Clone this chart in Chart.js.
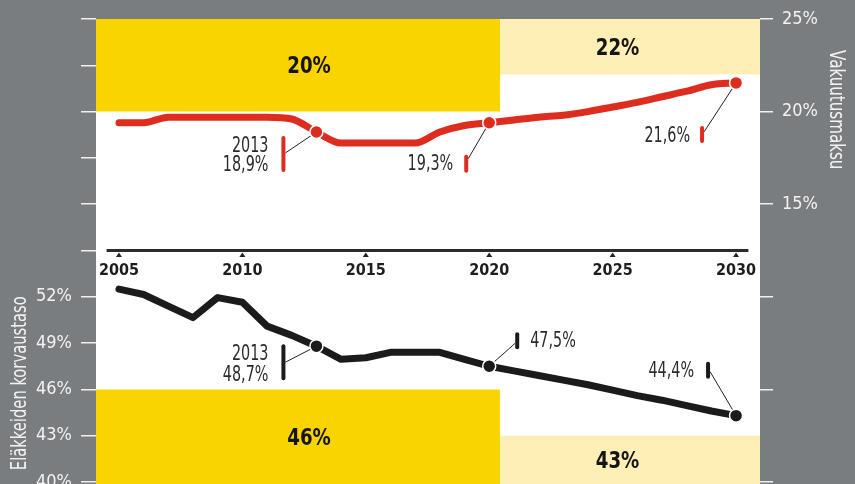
<!DOCTYPE html>
<html>
<head>
<meta charset="utf-8">
<script src="https://cdn.jsdelivr.net/npm/chart.js@4.4.1/dist/chart.umd.min.js"></script>
<style>
  html, body { margin: 0; padding: 0; background: #7a7d80; }
  #wrap { width: 855px; height: 484px; position: relative; }
</style>
</head>
<body>
<div id="wrap"><canvas id="kaavio"></canvas></div>
<script>
var vuodet = [2005, 2006, 2007, 2008, 2009, 2010, 2011, 2012, 2013, 2014, 2015, 2016, 2017,
              2018, 2019, 2020, 2021, 2022, 2023, 2024, 2025, 2026, 2027, 2028, 2029, 2030];
// vakuutusmaksu, % (oikea asteikko)
var maksu = [19.4, 19.4, 19.7, 19.7, 19.7, 19.7, 19.7, 19.6, 18.9, 18.3, 18.3, 18.3, 18.3,
             18.9, 19.25, 19.4, 19.55, 19.7, 19.8, 20.0, 20.25, 20.5, 20.8, 21.1, 21.45, 21.55];
// eläkkeiden korvaustaso, % (vasen asteikko)
var korvaus = [52.5, 52.15, 51.4, 50.65, 51.95, 51.65, 50.1, 49.5, 48.8, 47.95, 48.05, 48.4, 48.4,
               48.4, 47.95, 47.5, 47.2, 46.9, 46.6, 46.3, 45.95, 45.6, 45.3, 44.95, 44.6, 44.3];

var xTicks = [2005, 2010, 2015, 2020, 2025, 2030];
var maksuTicks = [0, 5, 10, 15, 20, 25];
var korvausTicks = [40, 43, 46, 49, 52, 55, 58, 61, 64, 67, 70];

var korostusVuodet = [2013, 2020, 2030];
var maksuTekstit = [['2013', '18,9%'], ['19,3%'], ['21,6%']];
var korvausTekstit = [['2013', '48,7%'], ['47,5%'], ['44,4%']];

// tavoitelaatikot: ennen / jälkeen rajan
var raja = 2020.45;
var maksuTavoite = [20, 22];
var korvausTavoite = [46, 43];
var tavoiteX = [2012.7, 2025.2];

var PUNAINEN = '#dc2d1e', MUSTA = '#1b1b1b';
var KELTA = '#f9d400', VAALEA = '#fdefb5';
var FONTTI = "'DejaVu Sans Condensed', 'DejaVu Sans', sans-serif";

// kuvatekstien paikat suhteessa pisteeseen (px)
var maksuSijainnit = [
  { bx: -33, b0: 4, b1: 40, lx: -31, ly: 21, tx: -48, ty: [15, 34], al: 'right' },
  { bx: -23, b0: 32, b1: 50, lx: -21, ly: 36, tx: -36, ty: [42], al: 'right' },
  { bx: -34, b0: 43, b1: 60, lx: -32, ly: 49, tx: -46, ty: [54], al: 'right' }
];
var korvausSijainnit = [
  { bx: -33, b0: -2, b1: 34, lx: -31, ly: 16, tx: -48, ty: [8, 29], al: 'right' },
  { bx: 28, b0: -34, b1: -17, lx: 26, ly: -23, tx: 41, ty: [-25], al: 'left' },
  { bx: -28, b0: -54, b1: -37, lx: -26, ly: -44, tx: -42, ty: [-44], al: 'right' }
];

function pisteet(arvot) {
  return vuodet.map(function(v, i) { return { x: v, y: arvot[i] }; });
}
function sade(ctx) {
  var p = ctx.raw;
  return p && korostusVuodet.indexOf(p.x) >= 0 ? 6.5 : 0;
}
// kapea teksti: DejaVu Condensed vielä vaakasuunnassa puristettuna
function kapea(ctx, t, x, y, al, sx, kulma) {
  ctx.save();
  ctx.translate(x, y);
  if (kulma) ctx.rotate(kulma);
  ctx.scale(sx, 1);
  ctx.textAlign = al;
  ctx.fillText(t, 0, 0);
  ctx.restore();
}
// y-akselit: kiinteä leveys, ei automaattista reunatilaa
function sovita(leveys) {
  return function(s) {
    s.width = leveys;
    s.paddingTop = 0;
    s.paddingBottom = 0;
  };
}

var koristeet = {
  id: 'koristeet',
  beforeDraw: function(chart) {
    var a = chart.chartArea, ctx = chart.ctx;
    ctx.save();
    ctx.fillStyle = '#fff';
    ctx.fillRect(a.left, a.top, a.right - a.left, a.bottom - a.top);
    ctx.restore();
  },
  beforeDatasetsDraw: function(chart) {
    var ctx = chart.ctx, sx = chart.scales.x;
    ctx.save();
    ctx.strokeStyle = '#222';
    ctx.lineWidth = 1;
    [[chart.scales.yR, maksu, maksuSijainnit], [chart.scales.yL, korvaus, korvausSijainnit]].forEach(function(s) {
      korostusVuodet.forEach(function(v, i) {
        var px = sx.getPixelForValue(v), py = s[0].getPixelForValue(s[1][vuodet.indexOf(v)]);
        var o = s[2][i];
        ctx.beginPath();
        ctx.moveTo(px, py);
        ctx.lineTo(px + o.lx, py + o.ly);
        ctx.stroke();
      });
    });
    ctx.restore();
  },
  afterDatasetsDraw: function(chart) {
    var ctx = chart.ctx, sx = chart.scales.x, yR = chart.scales.yR, yL = chart.scales.yL;
    var a = chart.chartArea;
    ctx.save();

    // aika-akseli keskellä
    var ay = yL.getPixelForValue(55);
    ctx.strokeStyle = '#2b2b2b';
    ctx.lineWidth = 3;
    ctx.beginPath();
    ctx.moveTo(sx.getPixelForValue(2004.5), ay);
    ctx.lineTo(sx.getPixelForValue(2030.5), ay);
    ctx.stroke();
    ctx.fillStyle = '#222';
    xTicks.forEach(function(v) {
      var x = sx.getPixelForValue(v);
      ctx.beginPath();
      ctx.moveTo(x - 3, ay + 6.5);
      ctx.lineTo(x + 3, ay + 6.5);
      ctx.lineTo(x, ay + 2);
      ctx.closePath();
      ctx.fill();
    });

    // tavoiteluvut
    ctx.fillStyle = '#151515';
    ctx.font = 'bold 23px ' + FONTTI;
    ctx.textBaseline = 'middle';
    maksuTavoite.forEach(function(t, i) {
      kapea(ctx, t + '%', sx.getPixelForValue(tavoiteX[i]), yR.getPixelForValue((t + yR.max) / 2) + 2, 'center', 0.88);
    });
    korvausTavoite.forEach(function(t, i) {
      kapea(ctx, t + '%', sx.getPixelForValue(tavoiteX[i]), yL.getPixelForValue((t + yL.min) / 2) + 2, 'center', 0.88);
    });

    // kuvatekstit
    ctx.font = '21px ' + FONTTI;
    [[yR, maksu, maksuSijainnit, maksuTekstit, PUNAINEN], [yL, korvaus, korvausSijainnit, korvausTekstit, MUSTA]].forEach(function(s) {
      korostusVuodet.forEach(function(v, i) {
        var px = sx.getPixelForValue(v), py = s[0].getPixelForValue(s[1][vuodet.indexOf(v)]);
        var o = s[2][i];
        ctx.strokeStyle = s[4];
        ctx.lineWidth = 4;
        ctx.lineCap = 'round';
        ctx.beginPath();
        ctx.moveTo(px + o.bx, py + o.b0 + 2);
        ctx.lineTo(px + o.bx, py + o.b1 - 2);
        ctx.stroke();
        ctx.fillStyle = '#2b2b2b';
        s[3][i].forEach(function(t, j) {
          kapea(ctx, t, px + o.tx, py + o.ty[j], o.al, 0.76);
        });
      });
    });

    // akselien otsikot
    ctx.fillStyle = '#f2f2f2';
    ctx.font = '21px ' + FONTTI;
    kapea(ctx, 'Vakuutusmaksu', a.right + 75, yR.getPixelForValue(20.1), 'center', 0.8, Math.PI / 2);
    kapea(ctx, 'Eläkkeiden korvaustaso', 21, yL.getPixelForValue(46.4), 'center', 0.78, -Math.PI / 2);

    ctx.restore();
  }
};

new Chart(document.getElementById('kaavio'), {
  type: 'line',
  data: {
    datasets: [
      {
        label: 'Vakuutusmaksu', data: pisteet(maksu), yAxisID: 'yR',
        borderColor: PUNAINEN, borderWidth: 7, cubicInterpolationMode: 'monotone',
        borderCapStyle: 'round', borderJoinStyle: 'round',
        pointRadius: sade, pointBackgroundColor: PUNAINEN,
        pointBorderColor: '#fff', pointBorderWidth: 1.5, order: 1
      },
      {
        label: 'Korvaustaso', data: pisteet(korvaus), yAxisID: 'yL',
        borderColor: MUSTA, borderWidth: 7, tension: 0,
        borderCapStyle: 'round', borderJoinStyle: 'round',
        pointRadius: sade, pointBackgroundColor: MUSTA,
        pointBorderColor: '#fff', pointBorderWidth: 1.5, order: 2
      },
      // tavoitelaatikot
      { data: [{ x: 2004, y: maksuTavoite[0] }, { x: raja, y: maksuTavoite[0] }], yAxisID: 'yR',
        fill: 'end', backgroundColor: KELTA, borderWidth: 0, pointRadius: 0, order: 5 },
      { data: [{ x: raja, y: maksuTavoite[1] }, { x: 2031, y: maksuTavoite[1] }], yAxisID: 'yR',
        fill: 'end', backgroundColor: VAALEA, borderWidth: 0, pointRadius: 0, order: 5 },
      { data: [{ x: 2004, y: korvausTavoite[0] }, { x: raja, y: korvausTavoite[0] }], yAxisID: 'yL',
        fill: 'start', backgroundColor: KELTA, borderWidth: 0, pointRadius: 0, order: 5 },
      { data: [{ x: raja, y: korvausTavoite[1] }, { x: 2031, y: korvausTavoite[1] }], yAxisID: 'yL',
        fill: 'start', backgroundColor: VAALEA, borderWidth: 0, pointRadius: 0, order: 5 }
    ]
  },
  options: {
    responsive: true, maintainAspectRatio: false, animation: false,
    layout: { padding: { top: 19, bottom: 0, left: 0, right: 0 }, autoPadding: false },
    plugins: { legend: { display: false }, tooltip: { enabled: false } },
    scales: {
      x: {
        type: 'linear', min: 2004.07, max: 2030.97,
        position: { yL: 55 },
        afterBuildTicks: function(s) { s.ticks = xTicks.map(function(v) { return { value: v }; }); },
        afterFit: function(s) { s.height = 0; s.paddingLeft = 0; s.paddingRight = 0; },
        grid: { display: false, drawTicks: false },
        border: { display: false },
        ticks: {
          callback: function(v) { return String(v); },
          color: '#1e1e1e', padding: 11, maxRotation: 0, autoSkip: false,
          font: { family: FONTTI, size: 16, weight: 'bold' }
        }
      },
      yL: {
        position: 'left', min: 39.87, max: 70,
        afterBuildTicks: function(s) { s.ticks = korvausTicks.map(function(v) { return { value: v }; }); },
        afterFit: sovita(96),
        grid: { drawOnChartArea: false, tickLength: 15, color: '#f0f0f0', lineWidth: 1.5 },
        border: { display: false },
        ticks: {
          padding: 9, color: '#f2f2f2',
          font: { family: FONTTI, size: 18 },
          callback: function(v) { return v <= 52 ? v + '%' : ''; }
        }
      },
      yR: {
        position: 'right', min: -0.11, max: 25,
        afterBuildTicks: function(s) { s.ticks = maksuTicks.map(function(v) { return { value: v }; }); },
        afterFit: sovita(95),
        grid: { drawOnChartArea: false, tickLength: 13, color: '#f0f0f0', lineWidth: 1.5 },
        border: { display: false },
        ticks: {
          padding: 9, color: '#f2f2f2',
          font: { family: FONTTI, size: 18 },
          callback: function(v) { return v >= 15 ? v + '%' : ''; }
        }
      }
    }
  },
  plugins: [koristeet]
});
</script>
</body>
</html>
